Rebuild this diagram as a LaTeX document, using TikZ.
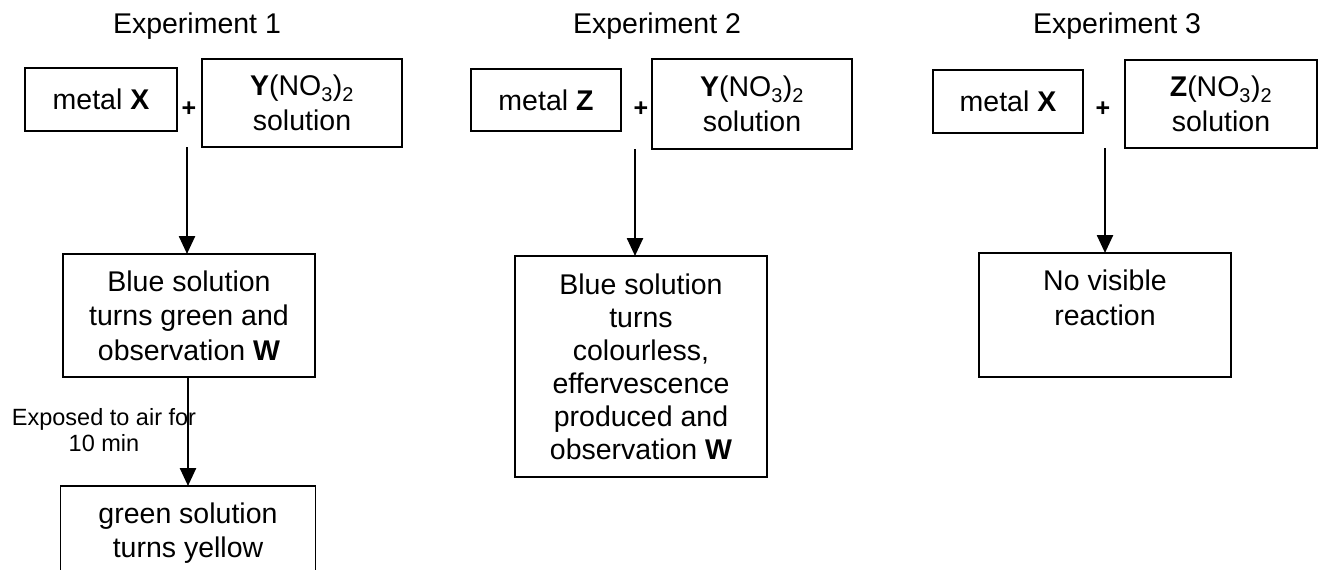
\documentclass[tikz,border=0pt]{standalone}
\usepackage{fontspec}
\setmainfont{Liberation Sans}
\usetikzlibrary{arrows.meta}
\tikzset{
  boxnode/.style={draw=black, line width=1.5pt, rectangle, inner sep=0pt, outer sep=0pt, align=center,
    font=\fontsize{28.5}{34.5}\selectfont},
  titlenode/.style={inner sep=0pt, font=\fontsize{28.5}{34.5}\selectfont},
  plusnode/.style={inner sep=0pt, font=\fontsize{25}{28}\selectfont\bfseries},
  labnode/.style={inner sep=0pt, align=center, font=\fontsize{23.5}{26}\selectfont},
  arr/.style={line width=2.5pt, -{Triangle[length=18pt,width=16pt]}}
}
\begin{document}
\begin{tikzpicture}[x=1pt,y=-1pt]
\useasboundingbox (0,0) rectangle (1318,570);
\clip (0,0) rectangle (1318,570);
% Experiment 1
\node[titlenode] (t1) at (197,26) {Experiment 1};
\node[boxnode, minimum width=152pt, minimum height=63pt] (mx1) at (101,99.5) {metal \textbf{X}};
\node[plusnode] (p1) at (189,109) {+};
\node[boxnode, minimum width=200pt, minimum height=88pt] (yn1) at (302,103) {\textbf{Y}(NO\textsubscript{3})\textsubscript{2}\\solution};
\coordinate (s1) at (187,147);
\node[boxnode, minimum width=252pt, minimum height=123pt] (r1) at (189,315.5) {Blue solution\\turns green and\\observation \textbf{W}};
\node[boxnode, minimum width=255pt, minimum height=123pt, anchor=north] (g1) at (188,486) {green solution\\turns yellow\\\mbox{}};
\node[labnode] (l1) at (104,430) {Exposed to air for\\10 min};
\draw[arr] (s1) -- (s1 |- r1.north);
\draw[arr] (r1.south -| g1.north) -- (g1.north);
% Experiment 2
\node[titlenode] (t2) at (657,26) {Experiment 2};
\node[boxnode, minimum width=150pt, minimum height=62pt] (mz2) at (546,100) {metal \textbf{Z}};
\node[plusnode] (p2) at (641,109) {+};
\node[boxnode, minimum width=200pt, minimum height=90pt] (yn2) at (752,104) {\textbf{Y}(NO\textsubscript{3})\textsubscript{2}\\solution};
\coordinate (s2) at (635,149);
\node[boxnode, minimum width=252pt, minimum height=221pt, font=\fontsize{28.5}{33}\selectfont] (r2) at (641,366.5) {Blue solution\\turns\\colourless,\\effervescence\\produced and\\observation \textbf{W}};
\draw[arr] (s2) -- (s2 |- r2.north);
% Experiment 3
\node[titlenode] (t3) at (1117,26) {Experiment 3};
\node[boxnode, minimum width=150pt, minimum height=63pt] (mx3) at (1008,101.5) {metal \textbf{X}};
\node[plusnode] (p3) at (1103,109) {+};
\node[boxnode, minimum width=192pt, minimum height=88pt] (zn3) at (1221,104) {\textbf{Z}(NO\textsubscript{3})\textsubscript{2}\\solution};
\coordinate (s3) at (1105,148);
\node[boxnode, minimum width=252pt, minimum height=124pt] (r3) at (1105,315) {No visible\\reaction\\\mbox{}};
\draw[arr] (s3) -- (s3 |- r3.north);
\end{tikzpicture}
\end{document}
